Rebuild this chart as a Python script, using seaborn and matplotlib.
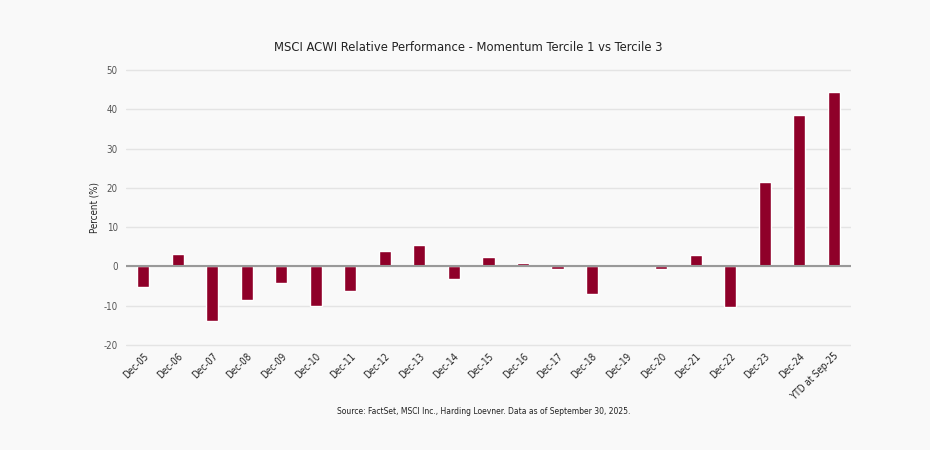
import matplotlib
matplotlib.use("Agg")
import matplotlib.pyplot as plt
import seaborn as sns
import pandas as pd
from matplotlib import font_manager

# datos
periodos = ['Dec-05', 'Dec-06', 'Dec-07', 'Dec-08', 'Dec-09', 'Dec-10', 'Dec-11',
            'Dec-12', 'Dec-13', 'Dec-14', 'Dec-15', 'Dec-16', 'Dec-17', 'Dec-18',
            'Dec-19', 'Dec-20', 'Dec-21', 'Dec-22', 'Dec-23', 'Dec-24', 'YTD at Sep-25']
rendimiento = [-5.2, 3.1, -14.0, -8.6, -4.2, -10.0, -6.3,
               3.9, 5.4, -3.2, 2.4, 0.9, -0.7, -7.0,
               0.0, -0.7, 2.9, -10.4, 21.6, 38.5, 44.4]
ticks_y = [-20, -10, 0, 10, 20, 30, 40, 50]

df = pd.DataFrame({'periodo': periodos, 'valor': rendimiento})

sns.set_theme(style='white')
# fuente condensada si existe (DejaVu Sans Condensed)
condensada = any('Condensed' in f.fname for f in font_manager.fontManager.ttflist
                 if f.name == 'DejaVu Sans')
plt.rcParams['font.family'] = ['DejaVu Sans']
if condensada:
    plt.rcParams['font.stretch'] = 'condensed'

fondo = '#f9f9f9'
fig = plt.figure(figsize=(9.3, 4.5), dpi=100, facecolor=fondo)
ax = fig.add_axes([0.1355, 0.229, 0.7795, 0.62])
ax.set_facecolor(fondo)

sns.barplot(data=df, x='periodo', y='valor', color='#8f0029', width=0.35,
            saturation=1, ax=ax, zorder=3)

ax.set_ylim(-20.5, 50.5)
ax.set_xlim(-0.5, len(periodos) - 0.5)
ax.set_yticks(ticks_y)
ax.set_yticklabels([str(t) for t in ticks_y], fontsize=7, color='#555555')
ax.yaxis.grid(True, color='#e4e4e4', linewidth=1, zorder=0)
ax.axhline(0, color='#999999', linewidth=1.5, zorder=4)
for s in ax.spines.values():
    s.set_visible(False)
ax.tick_params(axis='both', length=0)
ax.tick_params(axis='y', pad=6)

ax.set_xticks(range(len(periodos)))
ax.set_xticklabels(periodos, rotation=45, ha='right', rotation_mode='anchor',
                   fontsize=7, color='#222222')
ax.tick_params(axis='x', pad=3)
ax.set_xlabel('')
ax.set_ylabel('Percent (%)', fontsize=7, color='#222222', labelpad=3)

fig.text(0.503, 0.895, 'MSCI ACWI Relative Performance - Momentum Tercile 1 vs Tercile 3',
         ha='center', va='center', fontsize=9.3, color='#222222')
fig.text(0.52, 0.085, 'Source: FactSet, MSCI Inc., Harding Loevner. Data as of September 30, 2025.',
         ha='center', va='center', fontsize=6.15, color='#222222')

fig.savefig('out.png', dpi=100, facecolor=fondo)
